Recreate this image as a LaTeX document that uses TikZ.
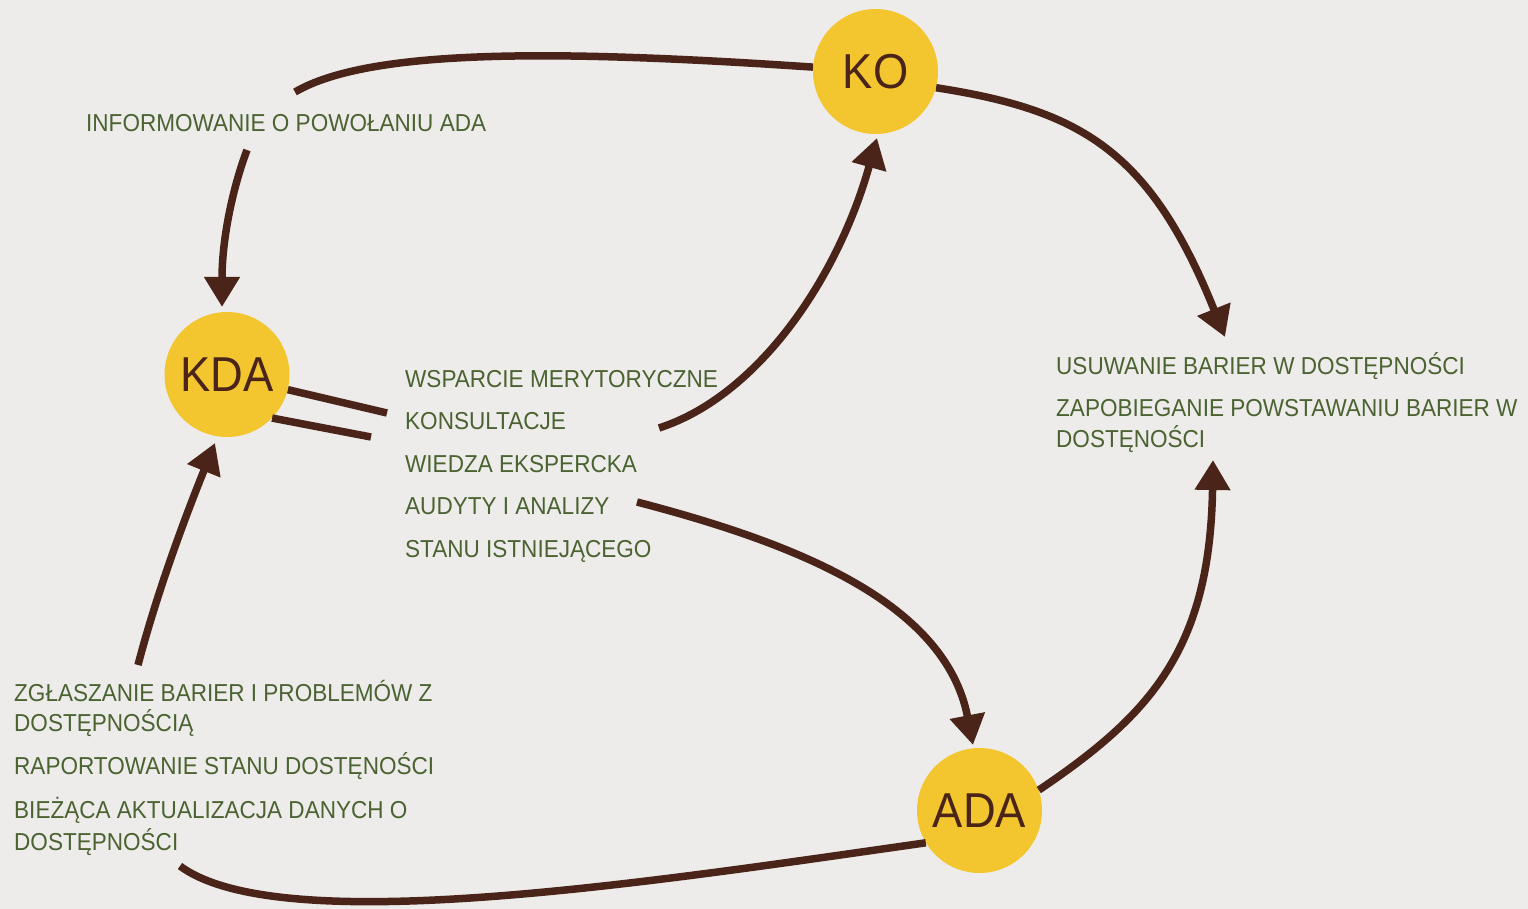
\documentclass[tikz,border=0pt]{standalone}
\usepackage{fontspec}
\setmainfont{Liberation Sans}
\newfontfamily\labfont[FakeStretch=0.92]{Liberation Sans}
\newfontfamily\circfont[FakeStretch=0.925]{Liberation Sans}
\usetikzlibrary{arrows.meta}
\definecolor{bgc}{HTML}{EDECEA}
\definecolor{yel}{HTML}{F3C62F}
\definecolor{brn}{HTML}{4A2418}
\definecolor{grn}{HTML}{4A6331}
\begin{document}
\begin{tikzpicture}[x=1pt,y=-1pt,
  circ/.style={circle,fill=yel,minimum size=125pt,inner sep=0pt,text=brn,font=\circfont\fontsize{49}{49}\selectfont},
  lab/.style={anchor=base west,inner sep=0pt,text=grn,font=\labfont\fontsize{24.5}{28}\selectfont},
  conn/.style={draw=brn,line width=7.5pt},
  arr/.style={conn,-{Triangle[width=34pt,length=30pt]}}]
\fill[bgc] (0,0) rectangle (1528,909);
\useasboundingbox (0,0) rectangle (1528,909);
% circles
\node[circ] (ko) at (875.5,71.5) {KO};
\node[circ] (kda) at (227,374.5) {KDA};
\node[circ] (ada) at (979.5,810.5) {ADA};
% labels
\node[lab] (info) at (86,132) {INFORMOWANIE O POWOŁANIU ADA};
\node[lab] (m1) at (405,387) {WSPARCIE MERYTORYCZNE};
\node[lab] (m2) at (405,429.5) {KONSULTACJE};
\node[lab] (m3) at (405,472) {WIEDZA EKSPERCKA};
\node[lab] (m4) at (405,514.5) {AUDYTY I ANALIZY};
\node[lab] (m5) at (405,557) {STANU ISTNIEJĄCEGO};
\node[lab] (r1) at (1056,374) {USUWANIE BARIER W DOSTĘPNOŚCI};
\node[lab] (r2) at (1056,416) {ZAPOBIEGANIE POWSTAWANIU BARIER W};
\node[lab] (r3) at (1056,447) {DOSTĘNOŚCI};
\node[lab] (l1) at (14,701) {ZGŁASZANIE BARIER I PROBLEMÓW Z};
\node[lab] (l2) at (14,731) {DOSTĘPNOŚCIĄ};
\node[lab] (l3) at (14,774) {RAPORTOWANIE STANU DOSTĘNOŚCI};
\node[lab] (l4) at (14,818) {BIEŻĄCA AKTUALIZACJA DANYCH O};
\node[lab] (l5) at (14,850) {DOSTĘPNOŚCI};
% connector end points
\coordinate (a1) at (295,92);
\coordinate (a2) at (247,150);
\coordinate (tkdatop) at (222,307);
\coordinate (tright) at (1225,337);
\coordinate (c0) at (659,428);
\coordinate (tkobot) at (877,138);
\coordinate (d0) at (637,502);
\coordinate (tadatop) at (973,745);
\coordinate (tzap) at (1213,460);
\coordinate (f1) at (180,866);
\coordinate (f2) at (138,665);
\coordinate (tkdabot) at (215,443);
\coordinate (e1) at (387,413);
\coordinate (e2) at (371,437);
% connectors
\draw[conn] (ko.176) .. controls (560,50) and (370,48) .. (a1);
\draw[arr] (a2) .. controls (232,190) and (222,240) .. (tkdatop);
\draw[arr] (ko.-15) .. controls (1080,110) and (1150,150) .. (tright);
\draw[arr] (c0) .. controls (758,396) and (838,278) .. (tkobot);
\draw[arr] (d0) .. controls (790,542) and (945,600) .. (tadatop);
\draw[arr] (ada.19) .. controls (1150,715) and (1210,650) .. (tzap);
\draw[conn] (ada.211) .. controls (650,882) and (280,940) .. (f1);
\draw[arr] (f2) .. controls (155,600) and (180,530) .. (tkdabot);
\draw[conn] (kda.-14) -- (e1);
\draw[conn] (kda.-44) -- (e2);
\end{tikzpicture}
\end{document}
